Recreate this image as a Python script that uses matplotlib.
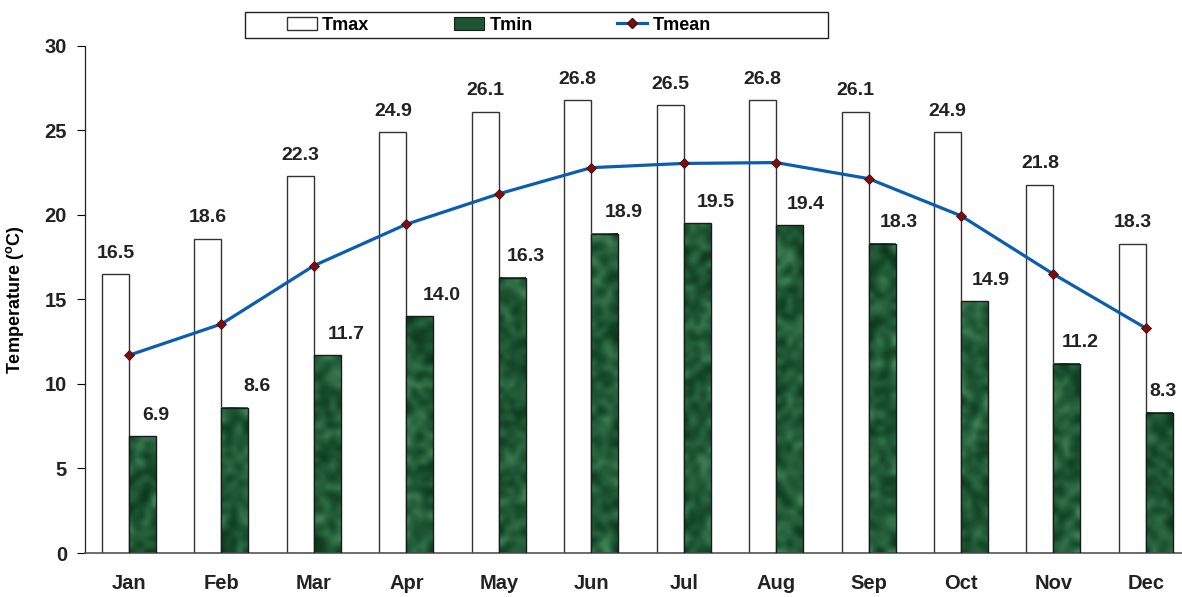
import numpy as np
import matplotlib
matplotlib.use("Agg")
import matplotlib.pyplot as plt
from matplotlib.colors import LinearSegmentedColormap
from matplotlib.patches import Rectangle, Patch
from matplotlib.lines import Line2D

plt.rcParams['font.family'] = ['Liberation Sans', 'DejaVu Sans']
plt.rcParams['font.weight'] = 'bold'
plt.rcParams['mathtext.fontset'] = 'custom'
plt.rcParams['mathtext.rm'] = 'Liberation Sans:bold'
plt.rcParams['mathtext.it'] = 'Liberation Sans:bold'
plt.rcParams['mathtext.bf'] = 'Liberation Sans:bold'

months = ['Jan', 'Feb', 'Mar', 'Apr', 'May', 'Jun',
          'Jul', 'Aug', 'Sep', 'Oct', 'Nov', 'Dec']
tmax = [16.5, 18.6, 22.3, 24.9, 26.1, 26.8, 26.5, 26.8, 26.1, 24.9, 21.8, 18.3]
tmin = [6.9, 8.6, 11.7, 14.0, 16.3, 18.9, 19.5, 19.4, 18.3, 14.9, 11.2, 8.3]
tmean = [11.7, 13.55, 17.0, 19.45, 21.25, 22.8, 23.05, 23.1, 22.15, 19.95, 16.5, 13.3]

x = np.arange(len(months))
w = 0.292

fig = plt.figure(figsize=(11.82, 5.97), dpi=100)
ax = fig.add_axes([0.0719, 0.0737, 0.9281, 0.8493])

# white Tmax bars, left of each month centre
ax.bar(x - w / 2, tmax, width=w, facecolor='white', edgecolor='#333333',
       linewidth=1.0, zorder=2)

# marbled green Tmin bars
green = LinearSegmentedColormap.from_list(
    'marble', ['#0a3217', '#174d2b', '#2a6640', '#4a8a5d'])
rng = np.random.default_rng(11)
for xi, v in zip(x, tmin):
    rows = max(int(v * 16.9 / 5.5), 2)
    tex = rng.random((rows, 5))
    ax.imshow(tex, cmap=green, interpolation='bicubic', aspect='auto',
              extent=(xi, xi + w, 0, v), origin='lower', zorder=2)
    ax.add_patch(Rectangle((xi, 0), w, v, facecolor='none',
                           edgecolor='#1a1a1a', linewidth=1.0, zorder=3))

# Tmean line with diamond markers at month centres
ax.plot(x, tmean, color='#0a5db0', linewidth=2.3, marker='D', markersize=5,
        markerfacecolor='#7a0f12', markeredgecolor='#4a0a0a',
        markeredgewidth=0.6, zorder=4)

for xi, v in zip(x, tmax):
    ax.annotate(f'{v:.1f}', (xi - w / 2, v), xytext=(0, 9),
                textcoords='offset points', ha='center', va='bottom',
                fontsize=14, fontweight='bold', color='#222222')
tmin_dx = [0, 6, 4, 6, 0, 4, 4, 2, 2, 2, 0, -7]
for xi, v, dx in zip(x, tmin, tmin_dx):
    ax.annotate(f'{v:.1f}', (xi + w, v), xytext=(dx, 9),
                textcoords='offset points', ha='center', va='bottom',
                fontsize=14, fontweight='bold', color='#222222')

ax.set_xlim(-0.476, 11.39)
ax.set_ylim(0, 30)
ax.set_yticks(range(0, 31, 5))
ax.set_xticks(x)
ax.set_xticklabels(months)
ax.tick_params(axis='x', length=0, pad=15, labelsize=14.5)
ax.tick_params(axis='y', length=6, width=0.8, direction='out', pad=7,
               labelsize=14.5)
for lab in ax.get_xticklabels() + ax.get_yticklabels():
    lab.set_fontweight('bold')
    lab.set_color('#222222')

ax.spines['top'].set_visible(False)
ax.spines['right'].set_visible(False)
ax.spines['left'].set_color('#222222')
ax.spines['left'].set_linewidth(0.9)
ax.spines['bottom'].set_color('#555555')
ax.spines['bottom'].set_linewidth(1.2)

ax.set_ylabel('Temperature ($^o$C)', fontsize=13, fontweight='bold',
              labelpad=13)

# legend across the top, framed by a plain rectangle
handles = [Patch(facecolor='white', edgecolor='#333333', linewidth=1.0),
           Patch(facecolor='#1d5532', edgecolor='#1a1a1a', linewidth=0.8),
           Line2D([0], [0], color='#0a5db0', linewidth=2.3, marker='D',
                  markersize=5, markerfacecolor='#7a0f12',
                  markeredgecolor='#4a0a0a')]
fig.legend(handles, ['Tmax', 'Tmin', 'Tmean'], loc='center',
           bbox_to_anchor=(0.422, 0.958), ncol=3, frameon=False,
           handlelength=1.65, handleheight=0.7,
           handletextpad=0.3, columnspacing=4.7,
           prop={'weight': 'bold', 'size': 13})
fig.add_artist(Rectangle((245 / 1182, 1 - 38 / 597), 583 / 1182, 26 / 597,
                         transform=fig.transFigure, facecolor='none',
                         edgecolor='#222222', linewidth=1.0))

fig.savefig('out.png', dpi=100)
